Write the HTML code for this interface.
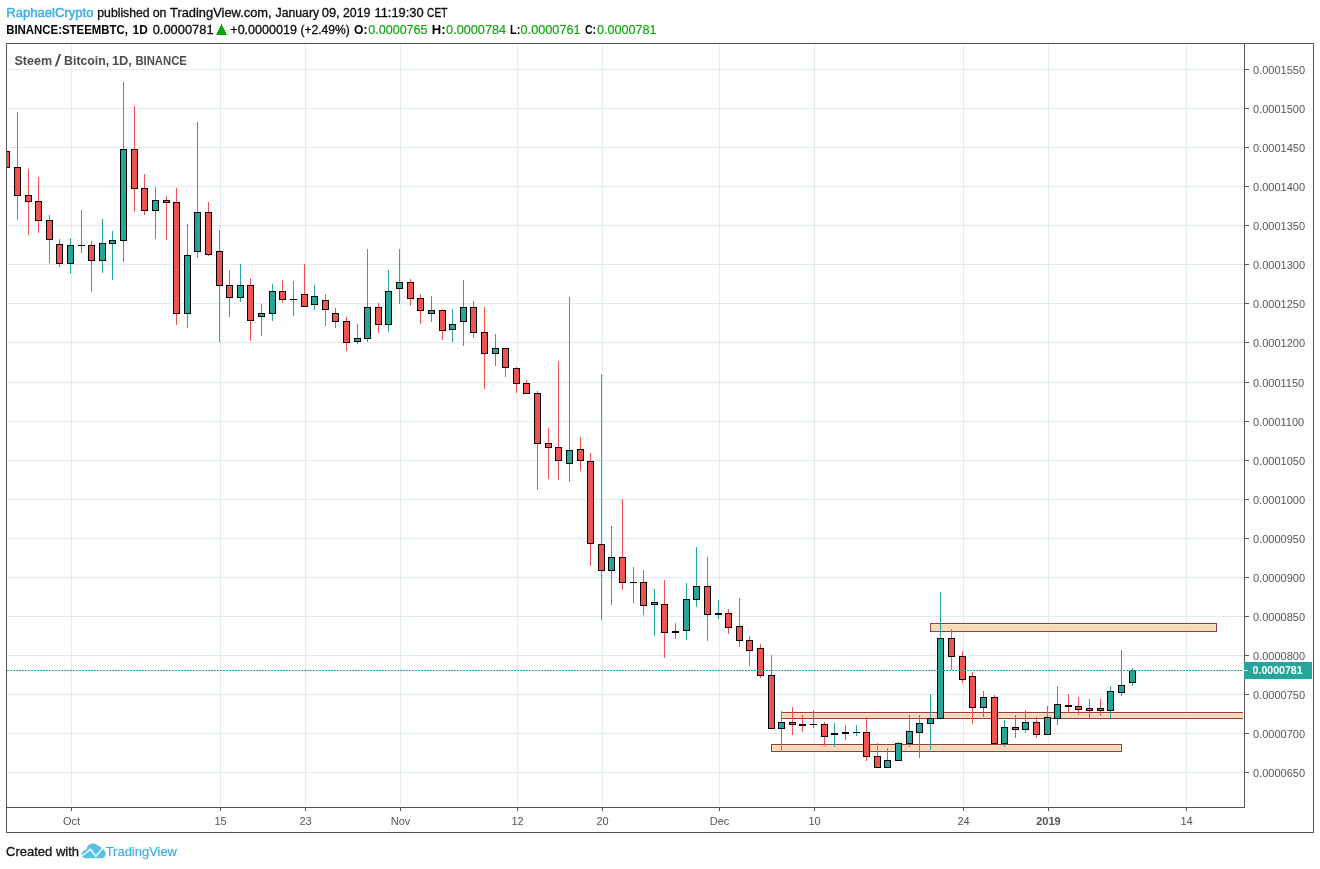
<!DOCTYPE html>
<html lang="en">
<head>
<meta charset="utf-8">
<title>Steem / Bitcoin, 1D, BINANCE - TradingView</title>
<style>
html,body{margin:0;padding:0;background:#ffffff;}
body{width:1320px;height:869px;overflow:hidden;font-family:"Liberation Sans",Arial,sans-serif;}
svg{display:block;position:absolute;left:0;top:0;}
svg rect, svg path{shape-rendering:crispEdges;}
svg #footer path{shape-rendering:auto;}
svg #hdr path{shape-rendering:auto;}
</style>
</head>
<body>
<svg width="1320" height="869" viewBox="0 0 1320 869">
<defs><clipPath id="pane"><rect x="7" y="44" width="1236" height="763"/></clipPath></defs>
<rect x="0" y="0" width="1320" height="869" fill="#ffffff"/>
<g id="grid">
<rect x="8" y="69" width="1235" height="1" fill="#e1ecf2"/>
<rect x="8" y="108" width="1235" height="1" fill="#e1ecf2"/>
<rect x="8" y="147" width="1235" height="1" fill="#e1ecf2"/>
<rect x="8" y="186" width="1235" height="1" fill="#e1ecf2"/>
<rect x="8" y="225" width="1235" height="1" fill="#e1ecf2"/>
<rect x="8" y="264" width="1235" height="1" fill="#e1ecf2"/>
<rect x="8" y="303" width="1235" height="1" fill="#e1ecf2"/>
<rect x="8" y="342" width="1235" height="1" fill="#e1ecf2"/>
<rect x="8" y="382" width="1235" height="1" fill="#e1ecf2"/>
<rect x="8" y="421" width="1235" height="1" fill="#e1ecf2"/>
<rect x="8" y="460" width="1235" height="1" fill="#e1ecf2"/>
<rect x="8" y="499" width="1235" height="1" fill="#e1ecf2"/>
<rect x="8" y="538" width="1235" height="1" fill="#e1ecf2"/>
<rect x="8" y="577" width="1235" height="1" fill="#e1ecf2"/>
<rect x="8" y="616" width="1235" height="1" fill="#e1ecf2"/>
<rect x="8" y="655" width="1235" height="1" fill="#e1ecf2"/>
<rect x="8" y="694" width="1235" height="1" fill="#e1ecf2"/>
<rect x="8" y="733" width="1235" height="1" fill="#e1ecf2"/>
<rect x="8" y="772" width="1235" height="1" fill="#e1ecf2"/>
<rect x="71" y="45" width="1" height="761" fill="#e1ecf2"/>
<rect x="220" y="45" width="1" height="761" fill="#e1ecf2"/>
<rect x="305" y="45" width="1" height="761" fill="#e1ecf2"/>
<rect x="400" y="45" width="1" height="761" fill="#e1ecf2"/>
<rect x="517" y="45" width="1" height="761" fill="#e1ecf2"/>
<rect x="602" y="45" width="1" height="761" fill="#e1ecf2"/>
<rect x="719" y="45" width="1" height="761" fill="#e1ecf2"/>
<rect x="814" y="45" width="1" height="761" fill="#e1ecf2"/>
<rect x="963" y="45" width="1" height="761" fill="#e1ecf2"/>
<rect x="1048" y="45" width="1" height="761" fill="#e1ecf2"/>
<rect x="1186" y="45" width="1" height="761" fill="#e1ecf2"/>
</g>
<g id="zones">
<g clip-path="url(#pane)">
<rect x="931" y="624" width="285" height="1" fill="#ffdfb0" fill-opacity="0.85"/>
<rect x="931" y="630" width="285" height="1" fill="#ffdfb0" fill-opacity="0.85"/>
<rect x="931" y="625" width="1" height="5" fill="#ffdfb0" fill-opacity="0.85"/>
<rect x="1215" y="625" width="1" height="5" fill="#ffdfb0" fill-opacity="0.85"/>
<rect x="932" y="625" width="283" height="5" fill="#f8d1a8" fill-opacity="0.85"/>
<rect x="930" y="623" width="287" height="1" fill="#92394b"/>
<rect x="930" y="631" width="287" height="1" fill="#92394b"/>
<rect x="930" y="623" width="1" height="9" fill="#92394b"/>
<rect x="1216" y="623" width="1" height="9" fill="#92394b"/>
<rect x="782" y="713" width="478" height="1" fill="#ffdfb0" fill-opacity="0.85"/>
<rect x="782" y="717" width="478" height="1" fill="#ffdfb0" fill-opacity="0.85"/>
<rect x="782" y="714" width="1" height="3" fill="#ffdfb0" fill-opacity="0.85"/>
<rect x="1259" y="714" width="1" height="3" fill="#ffdfb0" fill-opacity="0.85"/>
<rect x="783" y="714" width="476" height="3" fill="#f8d1a8" fill-opacity="0.85"/>
<rect x="781" y="712" width="480" height="1" fill="#92394b"/>
<rect x="781" y="718" width="480" height="1" fill="#92394b"/>
<rect x="781" y="712" width="1" height="7" fill="#92394b"/>
<rect x="1260" y="712" width="1" height="7" fill="#92394b"/>
<rect x="772" y="745" width="349" height="1" fill="#ffdfb0" fill-opacity="0.85"/>
<rect x="772" y="750" width="349" height="1" fill="#ffdfb0" fill-opacity="0.85"/>
<rect x="772" y="746" width="1" height="4" fill="#ffdfb0" fill-opacity="0.85"/>
<rect x="1120" y="746" width="1" height="4" fill="#ffdfb0" fill-opacity="0.85"/>
<rect x="773" y="746" width="347" height="4" fill="#f8d1a8" fill-opacity="0.85"/>
<rect x="771" y="744" width="351" height="1" fill="#92394b"/>
<rect x="771" y="751" width="351" height="1" fill="#92394b"/>
<rect x="771" y="744" width="1" height="8" fill="#92394b"/>
<rect x="1121" y="744" width="1" height="8" fill="#92394b"/>
</g>
</g>
<g id="candles" clip-path="url(#pane)">
<rect x="3" y="151" width="7" height="17" fill="#000000"/>
<rect x="4" y="152" width="5" height="15" fill="#ef5350"/>
<rect x="17" y="112" width="1" height="108" fill="#ef5350"/>
<rect x="14" y="167" width="7" height="29" fill="#000000"/>
<rect x="15" y="168" width="5" height="27" fill="#ef5350"/>
<rect x="28" y="169" width="1" height="66" fill="#ef5350"/>
<rect x="25" y="195" width="7" height="7" fill="#000000"/>
<rect x="26" y="196" width="5" height="5" fill="#ef5350"/>
<rect x="38" y="177" width="1" height="56" fill="#ef5350"/>
<rect x="35" y="201" width="7" height="20" fill="#000000"/>
<rect x="36" y="202" width="5" height="18" fill="#ef5350"/>
<rect x="49" y="215" width="1" height="48" fill="#ef5350"/>
<rect x="46" y="220" width="7" height="20" fill="#000000"/>
<rect x="47" y="221" width="5" height="18" fill="#ef5350"/>
<rect x="59" y="239" width="1" height="28" fill="#ef5350"/>
<rect x="56" y="244" width="7" height="20" fill="#000000"/>
<rect x="57" y="245" width="5" height="18" fill="#ef5350"/>
<rect x="70" y="238" width="1" height="36" fill="#26a69a"/>
<rect x="67" y="245" width="7" height="19" fill="#000000"/>
<rect x="68" y="246" width="5" height="17" fill="#26a69a"/>
<rect x="81" y="210" width="1" height="43" fill="#ef5350"/>
<rect x="78" y="245" width="7" height="1" fill="#000000"/>
<rect x="91" y="241" width="1" height="51" fill="#ef5350"/>
<rect x="88" y="245" width="7" height="16" fill="#000000"/>
<rect x="89" y="246" width="5" height="14" fill="#ef5350"/>
<rect x="102" y="219" width="1" height="54" fill="#26a69a"/>
<rect x="99" y="243" width="7" height="18" fill="#000000"/>
<rect x="100" y="244" width="5" height="16" fill="#26a69a"/>
<rect x="112" y="231" width="1" height="49" fill="#26a69a"/>
<rect x="109" y="240" width="7" height="4" fill="#000000"/>
<rect x="110" y="241" width="5" height="2" fill="#26a69a"/>
<rect x="123" y="82" width="1" height="180" fill="#26a69a"/>
<rect x="120" y="149" width="7" height="92" fill="#000000"/>
<rect x="121" y="150" width="5" height="90" fill="#26a69a"/>
<rect x="134" y="106" width="1" height="106" fill="#ef5350"/>
<rect x="131" y="149" width="7" height="40" fill="#000000"/>
<rect x="132" y="150" width="5" height="38" fill="#ef5350"/>
<rect x="144" y="174" width="1" height="41" fill="#ef5350"/>
<rect x="141" y="188" width="7" height="23" fill="#000000"/>
<rect x="142" y="189" width="5" height="21" fill="#ef5350"/>
<rect x="155" y="187" width="1" height="52" fill="#26a69a"/>
<rect x="152" y="200" width="7" height="11" fill="#000000"/>
<rect x="153" y="201" width="5" height="9" fill="#26a69a"/>
<rect x="166" y="196" width="1" height="44" fill="#ef5350"/>
<rect x="163" y="200" width="7" height="3" fill="#000000"/>
<rect x="164" y="201" width="5" height="1" fill="#ef5350"/>
<rect x="176" y="188" width="1" height="137" fill="#ef5350"/>
<rect x="173" y="202" width="7" height="112" fill="#000000"/>
<rect x="174" y="203" width="5" height="110" fill="#ef5350"/>
<rect x="187" y="224" width="1" height="104" fill="#26a69a"/>
<rect x="184" y="255" width="7" height="59" fill="#000000"/>
<rect x="185" y="256" width="5" height="57" fill="#26a69a"/>
<rect x="197" y="122" width="1" height="136" fill="#26a69a"/>
<rect x="194" y="212" width="7" height="40" fill="#000000"/>
<rect x="195" y="213" width="5" height="38" fill="#26a69a"/>
<rect x="208" y="202" width="1" height="54" fill="#ef5350"/>
<rect x="205" y="212" width="7" height="43" fill="#000000"/>
<rect x="206" y="213" width="5" height="41" fill="#ef5350"/>
<rect x="219" y="230" width="1" height="112" fill="#ef5350"/>
<rect x="216" y="251" width="7" height="35" fill="#000000"/>
<rect x="217" y="252" width="5" height="33" fill="#ef5350"/>
<rect x="229" y="270" width="1" height="47" fill="#ef5350"/>
<rect x="226" y="285" width="7" height="13" fill="#000000"/>
<rect x="227" y="286" width="5" height="11" fill="#ef5350"/>
<rect x="240" y="264" width="1" height="38" fill="#26a69a"/>
<rect x="237" y="285" width="7" height="13" fill="#000000"/>
<rect x="238" y="286" width="5" height="11" fill="#26a69a"/>
<rect x="250" y="278" width="1" height="63" fill="#ef5350"/>
<rect x="247" y="285" width="7" height="36" fill="#000000"/>
<rect x="248" y="286" width="5" height="34" fill="#ef5350"/>
<rect x="261" y="304" width="1" height="32" fill="#26a69a"/>
<rect x="258" y="313" width="7" height="4" fill="#000000"/>
<rect x="259" y="314" width="5" height="2" fill="#26a69a"/>
<rect x="272" y="284" width="1" height="37" fill="#26a69a"/>
<rect x="269" y="291" width="7" height="23" fill="#000000"/>
<rect x="270" y="292" width="5" height="21" fill="#26a69a"/>
<rect x="282" y="280" width="1" height="23" fill="#ef5350"/>
<rect x="279" y="291" width="7" height="9" fill="#000000"/>
<rect x="280" y="292" width="5" height="7" fill="#ef5350"/>
<rect x="293" y="281" width="1" height="35" fill="#26a69a"/>
<rect x="290" y="299" width="7" height="1" fill="#000000"/>
<rect x="304" y="264" width="1" height="43" fill="#ef5350"/>
<rect x="301" y="294" width="7" height="13" fill="#000000"/>
<rect x="302" y="295" width="5" height="11" fill="#ef5350"/>
<rect x="314" y="285" width="1" height="25" fill="#26a69a"/>
<rect x="311" y="296" width="7" height="9" fill="#000000"/>
<rect x="312" y="297" width="5" height="7" fill="#26a69a"/>
<rect x="325" y="294" width="1" height="32" fill="#ef5350"/>
<rect x="322" y="300" width="7" height="10" fill="#000000"/>
<rect x="323" y="301" width="5" height="8" fill="#ef5350"/>
<rect x="335" y="308" width="1" height="20" fill="#ef5350"/>
<rect x="332" y="313" width="7" height="9" fill="#000000"/>
<rect x="333" y="314" width="5" height="7" fill="#ef5350"/>
<rect x="346" y="317" width="1" height="34" fill="#ef5350"/>
<rect x="343" y="321" width="7" height="22" fill="#000000"/>
<rect x="344" y="322" width="5" height="20" fill="#ef5350"/>
<rect x="357" y="324" width="1" height="20" fill="#26a69a"/>
<rect x="354" y="338" width="7" height="4" fill="#000000"/>
<rect x="355" y="339" width="5" height="2" fill="#26a69a"/>
<rect x="367" y="249" width="1" height="93" fill="#26a69a"/>
<rect x="364" y="307" width="7" height="32" fill="#000000"/>
<rect x="365" y="308" width="5" height="30" fill="#26a69a"/>
<rect x="378" y="303" width="1" height="30" fill="#ef5350"/>
<rect x="375" y="307" width="7" height="18" fill="#000000"/>
<rect x="376" y="308" width="5" height="16" fill="#ef5350"/>
<rect x="388" y="270" width="1" height="62" fill="#26a69a"/>
<rect x="385" y="291" width="7" height="34" fill="#000000"/>
<rect x="386" y="292" width="5" height="32" fill="#26a69a"/>
<rect x="399" y="249" width="1" height="55" fill="#26a69a"/>
<rect x="396" y="282" width="7" height="7" fill="#000000"/>
<rect x="397" y="283" width="5" height="5" fill="#26a69a"/>
<rect x="410" y="279" width="1" height="27" fill="#ef5350"/>
<rect x="407" y="282" width="7" height="17" fill="#000000"/>
<rect x="408" y="283" width="5" height="15" fill="#ef5350"/>
<rect x="420" y="294" width="1" height="30" fill="#ef5350"/>
<rect x="417" y="298" width="7" height="13" fill="#000000"/>
<rect x="418" y="299" width="5" height="11" fill="#ef5350"/>
<rect x="431" y="296" width="1" height="26" fill="#26a69a"/>
<rect x="428" y="310" width="7" height="4" fill="#000000"/>
<rect x="429" y="311" width="5" height="2" fill="#26a69a"/>
<rect x="442" y="309" width="1" height="31" fill="#ef5350"/>
<rect x="439" y="310" width="7" height="21" fill="#000000"/>
<rect x="440" y="311" width="5" height="19" fill="#ef5350"/>
<rect x="452" y="309" width="1" height="33" fill="#26a69a"/>
<rect x="449" y="324" width="7" height="6" fill="#000000"/>
<rect x="450" y="325" width="5" height="4" fill="#26a69a"/>
<rect x="463" y="280" width="1" height="66" fill="#26a69a"/>
<rect x="460" y="307" width="7" height="15" fill="#000000"/>
<rect x="461" y="308" width="5" height="13" fill="#26a69a"/>
<rect x="473" y="301" width="1" height="37" fill="#ef5350"/>
<rect x="470" y="307" width="7" height="26" fill="#000000"/>
<rect x="471" y="308" width="5" height="24" fill="#ef5350"/>
<rect x="484" y="307" width="1" height="82" fill="#ef5350"/>
<rect x="481" y="332" width="7" height="22" fill="#000000"/>
<rect x="482" y="333" width="5" height="20" fill="#ef5350"/>
<rect x="495" y="334" width="1" height="32" fill="#26a69a"/>
<rect x="492" y="348" width="7" height="6" fill="#000000"/>
<rect x="493" y="349" width="5" height="4" fill="#26a69a"/>
<rect x="505" y="348" width="1" height="29" fill="#ef5350"/>
<rect x="502" y="348" width="7" height="20" fill="#000000"/>
<rect x="503" y="349" width="5" height="18" fill="#ef5350"/>
<rect x="516" y="367" width="1" height="26" fill="#ef5350"/>
<rect x="513" y="368" width="7" height="16" fill="#000000"/>
<rect x="514" y="369" width="5" height="14" fill="#ef5350"/>
<rect x="526" y="380" width="1" height="14" fill="#ef5350"/>
<rect x="523" y="383" width="7" height="11" fill="#000000"/>
<rect x="524" y="384" width="5" height="9" fill="#ef5350"/>
<rect x="537" y="391" width="1" height="99" fill="#ef5350"/>
<rect x="534" y="393" width="7" height="51" fill="#000000"/>
<rect x="535" y="394" width="5" height="49" fill="#ef5350"/>
<rect x="548" y="428" width="1" height="51" fill="#ef5350"/>
<rect x="545" y="443" width="7" height="5" fill="#000000"/>
<rect x="546" y="444" width="5" height="3" fill="#ef5350"/>
<rect x="558" y="361" width="1" height="119" fill="#ef5350"/>
<rect x="555" y="447" width="7" height="14" fill="#000000"/>
<rect x="556" y="448" width="5" height="12" fill="#ef5350"/>
<rect x="569" y="297" width="1" height="185" fill="#26a69a"/>
<rect x="566" y="450" width="7" height="14" fill="#000000"/>
<rect x="567" y="451" width="5" height="12" fill="#26a69a"/>
<rect x="580" y="437" width="1" height="34" fill="#ef5350"/>
<rect x="577" y="449" width="7" height="12" fill="#000000"/>
<rect x="578" y="450" width="5" height="10" fill="#ef5350"/>
<rect x="590" y="453" width="1" height="113" fill="#ef5350"/>
<rect x="587" y="461" width="7" height="83" fill="#000000"/>
<rect x="588" y="462" width="5" height="81" fill="#ef5350"/>
<rect x="601" y="374" width="1" height="246" fill="#ef5350"/>
<rect x="598" y="544" width="7" height="27" fill="#000000"/>
<rect x="599" y="545" width="5" height="25" fill="#ef5350"/>
<rect x="611" y="526" width="1" height="79" fill="#26a69a"/>
<rect x="608" y="557" width="7" height="14" fill="#000000"/>
<rect x="609" y="558" width="5" height="12" fill="#26a69a"/>
<rect x="622" y="499" width="1" height="91" fill="#ef5350"/>
<rect x="619" y="557" width="7" height="26" fill="#000000"/>
<rect x="620" y="558" width="5" height="24" fill="#ef5350"/>
<rect x="633" y="567" width="1" height="36" fill="#26a69a"/>
<rect x="630" y="582" width="7" height="1" fill="#000000"/>
<rect x="643" y="570" width="1" height="45" fill="#ef5350"/>
<rect x="640" y="582" width="7" height="24" fill="#000000"/>
<rect x="641" y="583" width="5" height="22" fill="#ef5350"/>
<rect x="654" y="589" width="1" height="47" fill="#26a69a"/>
<rect x="651" y="602" width="7" height="3" fill="#000000"/>
<rect x="652" y="603" width="5" height="1" fill="#26a69a"/>
<rect x="664" y="580" width="1" height="78" fill="#ef5350"/>
<rect x="661" y="604" width="7" height="29" fill="#000000"/>
<rect x="662" y="605" width="5" height="27" fill="#ef5350"/>
<rect x="675" y="623" width="1" height="16" fill="#26a69a"/>
<rect x="672" y="631" width="7" height="2" fill="#000000"/>
<rect x="686" y="583" width="1" height="57" fill="#26a69a"/>
<rect x="683" y="599" width="7" height="32" fill="#000000"/>
<rect x="684" y="600" width="5" height="30" fill="#26a69a"/>
<rect x="696" y="547" width="1" height="60" fill="#26a69a"/>
<rect x="693" y="586" width="7" height="14" fill="#000000"/>
<rect x="694" y="587" width="5" height="12" fill="#26a69a"/>
<rect x="707" y="557" width="1" height="84" fill="#ef5350"/>
<rect x="704" y="586" width="7" height="29" fill="#000000"/>
<rect x="705" y="587" width="5" height="27" fill="#ef5350"/>
<rect x="718" y="600" width="1" height="19" fill="#26a69a"/>
<rect x="715" y="613" width="7" height="2" fill="#000000"/>
<rect x="728" y="609" width="1" height="25" fill="#ef5350"/>
<rect x="725" y="613" width="7" height="15" fill="#000000"/>
<rect x="726" y="614" width="5" height="13" fill="#ef5350"/>
<rect x="739" y="598" width="1" height="49" fill="#ef5350"/>
<rect x="736" y="626" width="7" height="15" fill="#000000"/>
<rect x="737" y="627" width="5" height="13" fill="#ef5350"/>
<rect x="749" y="636" width="1" height="30" fill="#ef5350"/>
<rect x="746" y="640" width="7" height="11" fill="#000000"/>
<rect x="747" y="641" width="5" height="9" fill="#ef5350"/>
<rect x="760" y="644" width="1" height="34" fill="#ef5350"/>
<rect x="757" y="648" width="7" height="28" fill="#000000"/>
<rect x="758" y="649" width="5" height="26" fill="#ef5350"/>
<rect x="771" y="655" width="1" height="74" fill="#ef5350"/>
<rect x="768" y="675" width="7" height="54" fill="#000000"/>
<rect x="769" y="676" width="5" height="52" fill="#ef5350"/>
<rect x="781" y="711" width="1" height="40" fill="#26a69a"/>
<rect x="778" y="722" width="7" height="7" fill="#000000"/>
<rect x="779" y="723" width="5" height="5" fill="#26a69a"/>
<rect x="792" y="707" width="1" height="28" fill="#ef5350"/>
<rect x="789" y="722" width="7" height="3" fill="#000000"/>
<rect x="790" y="723" width="5" height="1" fill="#ef5350"/>
<rect x="802" y="715" width="1" height="17" fill="#ef5350"/>
<rect x="799" y="724" width="7" height="2" fill="#000000"/>
<rect x="813" y="710" width="1" height="18" fill="#26a69a"/>
<rect x="810" y="724" width="7" height="1" fill="#000000"/>
<rect x="824" y="722" width="1" height="24" fill="#ef5350"/>
<rect x="821" y="724" width="7" height="13" fill="#000000"/>
<rect x="822" y="725" width="5" height="11" fill="#ef5350"/>
<rect x="834" y="723" width="1" height="24" fill="#26a69a"/>
<rect x="831" y="733" width="7" height="2" fill="#000000"/>
<rect x="845" y="725" width="1" height="15" fill="#26a69a"/>
<rect x="842" y="732" width="7" height="2" fill="#000000"/>
<rect x="856" y="725" width="1" height="11" fill="#26a69a"/>
<rect x="853" y="732" width="7" height="1" fill="#000000"/>
<rect x="866" y="717" width="1" height="44" fill="#ef5350"/>
<rect x="863" y="732" width="7" height="25" fill="#000000"/>
<rect x="864" y="733" width="5" height="23" fill="#ef5350"/>
<rect x="877" y="743" width="1" height="25" fill="#ef5350"/>
<rect x="874" y="756" width="7" height="12" fill="#000000"/>
<rect x="875" y="757" width="5" height="10" fill="#ef5350"/>
<rect x="887" y="748" width="1" height="20" fill="#26a69a"/>
<rect x="884" y="760" width="7" height="8" fill="#000000"/>
<rect x="885" y="761" width="5" height="6" fill="#26a69a"/>
<rect x="898" y="742" width="1" height="19" fill="#26a69a"/>
<rect x="895" y="743" width="7" height="18" fill="#000000"/>
<rect x="896" y="744" width="5" height="16" fill="#26a69a"/>
<rect x="909" y="715" width="1" height="32" fill="#26a69a"/>
<rect x="906" y="731" width="7" height="13" fill="#000000"/>
<rect x="907" y="732" width="5" height="11" fill="#26a69a"/>
<rect x="919" y="715" width="1" height="43" fill="#26a69a"/>
<rect x="916" y="723" width="7" height="10" fill="#000000"/>
<rect x="917" y="724" width="5" height="8" fill="#26a69a"/>
<rect x="930" y="694" width="1" height="56" fill="#26a69a"/>
<rect x="927" y="718" width="7" height="6" fill="#000000"/>
<rect x="928" y="719" width="5" height="4" fill="#26a69a"/>
<rect x="940" y="592" width="1" height="127" fill="#26a69a"/>
<rect x="937" y="638" width="7" height="81" fill="#000000"/>
<rect x="938" y="639" width="5" height="79" fill="#26a69a"/>
<rect x="951" y="629" width="1" height="41" fill="#ef5350"/>
<rect x="948" y="638" width="7" height="19" fill="#000000"/>
<rect x="949" y="639" width="5" height="17" fill="#ef5350"/>
<rect x="962" y="651" width="1" height="32" fill="#ef5350"/>
<rect x="959" y="656" width="7" height="24" fill="#000000"/>
<rect x="960" y="657" width="5" height="22" fill="#ef5350"/>
<rect x="972" y="672" width="1" height="52" fill="#ef5350"/>
<rect x="969" y="676" width="7" height="32" fill="#000000"/>
<rect x="970" y="677" width="5" height="30" fill="#ef5350"/>
<rect x="983" y="691" width="1" height="26" fill="#26a69a"/>
<rect x="980" y="697" width="7" height="11" fill="#000000"/>
<rect x="981" y="698" width="5" height="9" fill="#26a69a"/>
<rect x="994" y="695" width="1" height="50" fill="#ef5350"/>
<rect x="991" y="697" width="7" height="47" fill="#000000"/>
<rect x="992" y="698" width="5" height="45" fill="#ef5350"/>
<rect x="1004" y="720" width="1" height="27" fill="#26a69a"/>
<rect x="1001" y="727" width="7" height="17" fill="#000000"/>
<rect x="1002" y="728" width="5" height="15" fill="#26a69a"/>
<rect x="1015" y="715" width="1" height="23" fill="#ef5350"/>
<rect x="1012" y="727" width="7" height="3" fill="#000000"/>
<rect x="1013" y="728" width="5" height="1" fill="#ef5350"/>
<rect x="1025" y="710" width="1" height="23" fill="#26a69a"/>
<rect x="1022" y="722" width="7" height="8" fill="#000000"/>
<rect x="1023" y="723" width="5" height="6" fill="#26a69a"/>
<rect x="1036" y="717" width="1" height="21" fill="#ef5350"/>
<rect x="1033" y="722" width="7" height="13" fill="#000000"/>
<rect x="1034" y="723" width="5" height="11" fill="#ef5350"/>
<rect x="1047" y="706" width="1" height="29" fill="#26a69a"/>
<rect x="1044" y="717" width="7" height="18" fill="#000000"/>
<rect x="1045" y="718" width="5" height="16" fill="#26a69a"/>
<rect x="1057" y="686" width="1" height="39" fill="#26a69a"/>
<rect x="1054" y="704" width="7" height="15" fill="#000000"/>
<rect x="1055" y="705" width="5" height="13" fill="#26a69a"/>
<rect x="1068" y="694" width="1" height="19" fill="#ef5350"/>
<rect x="1065" y="705" width="7" height="2" fill="#000000"/>
<rect x="1078" y="697" width="1" height="18" fill="#ef5350"/>
<rect x="1075" y="706" width="7" height="4" fill="#000000"/>
<rect x="1076" y="707" width="5" height="2" fill="#ef5350"/>
<rect x="1089" y="699" width="1" height="20" fill="#26a69a"/>
<rect x="1086" y="708" width="7" height="3" fill="#000000"/>
<rect x="1087" y="709" width="5" height="1" fill="#26a69a"/>
<rect x="1100" y="699" width="1" height="17" fill="#ef5350"/>
<rect x="1097" y="708" width="7" height="3" fill="#000000"/>
<rect x="1098" y="709" width="5" height="1" fill="#ef5350"/>
<rect x="1110" y="686" width="1" height="32" fill="#26a69a"/>
<rect x="1107" y="691" width="7" height="20" fill="#000000"/>
<rect x="1108" y="692" width="5" height="18" fill="#26a69a"/>
<rect x="1121" y="650" width="1" height="46" fill="#26a69a"/>
<rect x="1118" y="685" width="7" height="8" fill="#000000"/>
<rect x="1119" y="686" width="5" height="6" fill="#26a69a"/>
<rect x="1132" y="668" width="1" height="18" fill="#26a69a"/>
<rect x="1129" y="670" width="7" height="13" fill="#000000"/>
<rect x="1130" y="671" width="5" height="11" fill="#26a69a"/>
</g>
<g id="priceline">
<path d="M7 670h2v1h-2zM10 670h2v1h-2zM13 670h2v1h-2zM16 670h2v1h-2zM19 670h2v1h-2zM22 670h2v1h-2zM25 670h2v1h-2zM28 670h2v1h-2zM31 670h2v1h-2zM34 670h2v1h-2zM37 670h2v1h-2zM40 670h2v1h-2zM43 670h2v1h-2zM46 670h2v1h-2zM49 670h2v1h-2zM52 670h2v1h-2zM55 670h2v1h-2zM58 670h2v1h-2zM61 670h2v1h-2zM64 670h2v1h-2zM67 670h2v1h-2zM70 670h2v1h-2zM73 670h2v1h-2zM76 670h2v1h-2zM79 670h2v1h-2zM82 670h2v1h-2zM85 670h2v1h-2zM88 670h2v1h-2zM91 670h2v1h-2zM94 670h2v1h-2zM97 670h2v1h-2zM100 670h2v1h-2zM103 670h2v1h-2zM106 670h2v1h-2zM109 670h2v1h-2zM112 670h2v1h-2zM115 670h2v1h-2zM118 670h2v1h-2zM121 670h2v1h-2zM124 670h2v1h-2zM127 670h2v1h-2zM130 670h2v1h-2zM133 670h2v1h-2zM136 670h2v1h-2zM139 670h2v1h-2zM142 670h2v1h-2zM145 670h2v1h-2zM148 670h2v1h-2zM151 670h2v1h-2zM154 670h2v1h-2zM157 670h2v1h-2zM160 670h2v1h-2zM163 670h2v1h-2zM166 670h2v1h-2zM169 670h2v1h-2zM172 670h2v1h-2zM175 670h2v1h-2zM178 670h2v1h-2zM181 670h2v1h-2zM184 670h2v1h-2zM187 670h2v1h-2zM190 670h2v1h-2zM193 670h2v1h-2zM196 670h2v1h-2zM199 670h2v1h-2zM202 670h2v1h-2zM205 670h2v1h-2zM208 670h2v1h-2zM211 670h2v1h-2zM214 670h2v1h-2zM217 670h2v1h-2zM220 670h2v1h-2zM223 670h2v1h-2zM226 670h2v1h-2zM229 670h2v1h-2zM232 670h2v1h-2zM235 670h2v1h-2zM238 670h2v1h-2zM241 670h2v1h-2zM244 670h2v1h-2zM247 670h2v1h-2zM250 670h2v1h-2zM253 670h2v1h-2zM256 670h2v1h-2zM259 670h2v1h-2zM262 670h2v1h-2zM265 670h2v1h-2zM268 670h2v1h-2zM271 670h2v1h-2zM274 670h2v1h-2zM277 670h2v1h-2zM280 670h2v1h-2zM283 670h2v1h-2zM286 670h2v1h-2zM289 670h2v1h-2zM292 670h2v1h-2zM295 670h2v1h-2zM298 670h2v1h-2zM301 670h2v1h-2zM304 670h2v1h-2zM307 670h2v1h-2zM310 670h2v1h-2zM313 670h2v1h-2zM316 670h2v1h-2zM319 670h2v1h-2zM322 670h2v1h-2zM325 670h2v1h-2zM328 670h2v1h-2zM331 670h2v1h-2zM334 670h2v1h-2zM337 670h2v1h-2zM340 670h2v1h-2zM343 670h2v1h-2zM346 670h2v1h-2zM349 670h2v1h-2zM352 670h2v1h-2zM355 670h2v1h-2zM358 670h2v1h-2zM361 670h2v1h-2zM364 670h2v1h-2zM367 670h2v1h-2zM370 670h2v1h-2zM373 670h2v1h-2zM376 670h2v1h-2zM379 670h2v1h-2zM382 670h2v1h-2zM385 670h2v1h-2zM388 670h2v1h-2zM391 670h2v1h-2zM394 670h2v1h-2zM397 670h2v1h-2zM400 670h2v1h-2zM403 670h2v1h-2zM406 670h2v1h-2zM409 670h2v1h-2zM412 670h2v1h-2zM415 670h2v1h-2zM418 670h2v1h-2zM421 670h2v1h-2zM424 670h2v1h-2zM427 670h2v1h-2zM430 670h2v1h-2zM433 670h2v1h-2zM436 670h2v1h-2zM439 670h2v1h-2zM442 670h2v1h-2zM445 670h2v1h-2zM448 670h2v1h-2zM451 670h2v1h-2zM454 670h2v1h-2zM457 670h2v1h-2zM460 670h2v1h-2zM463 670h2v1h-2zM466 670h2v1h-2zM469 670h2v1h-2zM472 670h2v1h-2zM475 670h2v1h-2zM478 670h2v1h-2zM481 670h2v1h-2zM484 670h2v1h-2zM487 670h2v1h-2zM490 670h2v1h-2zM493 670h2v1h-2zM496 670h2v1h-2zM499 670h2v1h-2zM502 670h2v1h-2zM505 670h2v1h-2zM508 670h2v1h-2zM511 670h2v1h-2zM514 670h2v1h-2zM517 670h2v1h-2zM520 670h2v1h-2zM523 670h2v1h-2zM526 670h2v1h-2zM529 670h2v1h-2zM532 670h2v1h-2zM535 670h2v1h-2zM538 670h2v1h-2zM541 670h2v1h-2zM544 670h2v1h-2zM547 670h2v1h-2zM550 670h2v1h-2zM553 670h2v1h-2zM556 670h2v1h-2zM559 670h2v1h-2zM562 670h2v1h-2zM565 670h2v1h-2zM568 670h2v1h-2zM571 670h2v1h-2zM574 670h2v1h-2zM577 670h2v1h-2zM580 670h2v1h-2zM583 670h2v1h-2zM586 670h2v1h-2zM589 670h2v1h-2zM592 670h2v1h-2zM595 670h2v1h-2zM598 670h2v1h-2zM601 670h2v1h-2zM604 670h2v1h-2zM607 670h2v1h-2zM610 670h2v1h-2zM613 670h2v1h-2zM616 670h2v1h-2zM619 670h2v1h-2zM622 670h2v1h-2zM625 670h2v1h-2zM628 670h2v1h-2zM631 670h2v1h-2zM634 670h2v1h-2zM637 670h2v1h-2zM640 670h2v1h-2zM643 670h2v1h-2zM646 670h2v1h-2zM649 670h2v1h-2zM652 670h2v1h-2zM655 670h2v1h-2zM658 670h2v1h-2zM661 670h2v1h-2zM664 670h2v1h-2zM667 670h2v1h-2zM670 670h2v1h-2zM673 670h2v1h-2zM676 670h2v1h-2zM679 670h2v1h-2zM682 670h2v1h-2zM685 670h2v1h-2zM688 670h2v1h-2zM691 670h2v1h-2zM694 670h2v1h-2zM697 670h2v1h-2zM700 670h2v1h-2zM703 670h2v1h-2zM706 670h2v1h-2zM709 670h2v1h-2zM712 670h2v1h-2zM715 670h2v1h-2zM718 670h2v1h-2zM721 670h2v1h-2zM724 670h2v1h-2zM727 670h2v1h-2zM730 670h2v1h-2zM733 670h2v1h-2zM736 670h2v1h-2zM739 670h2v1h-2zM742 670h2v1h-2zM745 670h2v1h-2zM748 670h2v1h-2zM751 670h2v1h-2zM754 670h2v1h-2zM757 670h2v1h-2zM760 670h2v1h-2zM763 670h2v1h-2zM766 670h2v1h-2zM769 670h2v1h-2zM772 670h2v1h-2zM775 670h2v1h-2zM778 670h2v1h-2zM781 670h2v1h-2zM784 670h2v1h-2zM787 670h2v1h-2zM790 670h2v1h-2zM793 670h2v1h-2zM796 670h2v1h-2zM799 670h2v1h-2zM802 670h2v1h-2zM805 670h2v1h-2zM808 670h2v1h-2zM811 670h2v1h-2zM814 670h2v1h-2zM817 670h2v1h-2zM820 670h2v1h-2zM823 670h2v1h-2zM826 670h2v1h-2zM829 670h2v1h-2zM832 670h2v1h-2zM835 670h2v1h-2zM838 670h2v1h-2zM841 670h2v1h-2zM844 670h2v1h-2zM847 670h2v1h-2zM850 670h2v1h-2zM853 670h2v1h-2zM856 670h2v1h-2zM859 670h2v1h-2zM862 670h2v1h-2zM865 670h2v1h-2zM868 670h2v1h-2zM871 670h2v1h-2zM874 670h2v1h-2zM877 670h2v1h-2zM880 670h2v1h-2zM883 670h2v1h-2zM886 670h2v1h-2zM889 670h2v1h-2zM892 670h2v1h-2zM895 670h2v1h-2zM898 670h2v1h-2zM901 670h2v1h-2zM904 670h2v1h-2zM907 670h2v1h-2zM910 670h2v1h-2zM913 670h2v1h-2zM916 670h2v1h-2zM919 670h2v1h-2zM922 670h2v1h-2zM925 670h2v1h-2zM928 670h2v1h-2zM931 670h2v1h-2zM934 670h2v1h-2zM937 670h2v1h-2zM940 670h2v1h-2zM943 670h2v1h-2zM946 670h2v1h-2zM949 670h2v1h-2zM952 670h2v1h-2zM955 670h2v1h-2zM958 670h2v1h-2zM961 670h2v1h-2zM964 670h2v1h-2zM967 670h2v1h-2zM970 670h2v1h-2zM973 670h2v1h-2zM976 670h2v1h-2zM979 670h2v1h-2zM982 670h2v1h-2zM985 670h2v1h-2zM988 670h2v1h-2zM991 670h2v1h-2zM994 670h2v1h-2zM997 670h2v1h-2zM1000 670h2v1h-2zM1003 670h2v1h-2zM1006 670h2v1h-2zM1009 670h2v1h-2zM1012 670h2v1h-2zM1015 670h2v1h-2zM1018 670h2v1h-2zM1021 670h2v1h-2zM1024 670h2v1h-2zM1027 670h2v1h-2zM1030 670h2v1h-2zM1033 670h2v1h-2zM1036 670h2v1h-2zM1039 670h2v1h-2zM1042 670h2v1h-2zM1045 670h2v1h-2zM1048 670h2v1h-2zM1051 670h2v1h-2zM1054 670h2v1h-2zM1057 670h2v1h-2zM1060 670h2v1h-2zM1063 670h2v1h-2zM1066 670h2v1h-2zM1069 670h2v1h-2zM1072 670h2v1h-2zM1075 670h2v1h-2zM1078 670h2v1h-2zM1081 670h2v1h-2zM1084 670h2v1h-2zM1087 670h2v1h-2zM1090 670h2v1h-2zM1093 670h2v1h-2zM1096 670h2v1h-2zM1099 670h2v1h-2zM1102 670h2v1h-2zM1105 670h2v1h-2zM1108 670h2v1h-2zM1111 670h2v1h-2zM1114 670h2v1h-2zM1117 670h2v1h-2zM1120 670h2v1h-2zM1123 670h2v1h-2zM1126 670h2v1h-2zM1129 670h2v1h-2zM1132 670h2v1h-2zM1135 670h2v1h-2zM1138 670h2v1h-2zM1141 670h2v1h-2zM1144 670h2v1h-2zM1147 670h2v1h-2zM1150 670h2v1h-2zM1153 670h2v1h-2zM1156 670h2v1h-2zM1159 670h2v1h-2zM1162 670h2v1h-2zM1165 670h2v1h-2zM1168 670h2v1h-2zM1171 670h2v1h-2zM1174 670h2v1h-2zM1177 670h2v1h-2zM1180 670h2v1h-2zM1183 670h2v1h-2zM1186 670h2v1h-2zM1189 670h2v1h-2zM1192 670h2v1h-2zM1195 670h2v1h-2zM1198 670h2v1h-2zM1201 670h2v1h-2zM1204 670h2v1h-2zM1207 670h2v1h-2zM1210 670h2v1h-2zM1213 670h2v1h-2zM1216 670h2v1h-2zM1219 670h2v1h-2zM1222 670h2v1h-2zM1225 670h2v1h-2zM1228 670h2v1h-2zM1231 670h2v1h-2zM1234 670h2v1h-2zM1237 670h2v1h-2zM1240 670h2v1h-2z" fill="#26a69a"/>
</g>
<g id="frame">
<rect x="6" y="43" width="1308" height="1" fill="#555555"/>
<rect x="6" y="832" width="1308" height="1" fill="#555555"/>
<rect x="6" y="43" width="1" height="790" fill="#555555"/>
<rect x="1313" y="43" width="1" height="790" fill="#555555"/>
<rect x="1244" y="43" width="1" height="765" fill="#555555"/>
<rect x="6" y="807" width="1239" height="1" fill="#555555"/>
<rect x="1245" y="69" width="4" height="1" fill="#555555"/>
<rect x="1245" y="108" width="4" height="1" fill="#555555"/>
<rect x="1245" y="147" width="4" height="1" fill="#555555"/>
<rect x="1245" y="186" width="4" height="1" fill="#555555"/>
<rect x="1245" y="225" width="4" height="1" fill="#555555"/>
<rect x="1245" y="264" width="4" height="1" fill="#555555"/>
<rect x="1245" y="303" width="4" height="1" fill="#555555"/>
<rect x="1245" y="342" width="4" height="1" fill="#555555"/>
<rect x="1245" y="382" width="4" height="1" fill="#555555"/>
<rect x="1245" y="421" width="4" height="1" fill="#555555"/>
<rect x="1245" y="460" width="4" height="1" fill="#555555"/>
<rect x="1245" y="499" width="4" height="1" fill="#555555"/>
<rect x="1245" y="538" width="4" height="1" fill="#555555"/>
<rect x="1245" y="577" width="4" height="1" fill="#555555"/>
<rect x="1245" y="616" width="4" height="1" fill="#555555"/>
<rect x="1245" y="655" width="4" height="1" fill="#555555"/>
<rect x="1245" y="694" width="4" height="1" fill="#555555"/>
<rect x="1245" y="733" width="4" height="1" fill="#555555"/>
<rect x="1245" y="772" width="4" height="1" fill="#555555"/>
<rect x="71" y="808" width="1" height="3" fill="#555555"/>
<rect x="220" y="808" width="1" height="3" fill="#555555"/>
<rect x="305" y="808" width="1" height="3" fill="#555555"/>
<rect x="400" y="808" width="1" height="3" fill="#555555"/>
<rect x="517" y="808" width="1" height="3" fill="#555555"/>
<rect x="602" y="808" width="1" height="3" fill="#555555"/>
<rect x="719" y="808" width="1" height="3" fill="#555555"/>
<rect x="814" y="808" width="1" height="3" fill="#555555"/>
<rect x="963" y="808" width="1" height="3" fill="#555555"/>
<rect x="1048" y="808" width="1" height="3" fill="#555555"/>
<rect x="1186" y="808" width="1" height="3" fill="#555555"/>
</g>
<g id="plabels" font-family="'Liberation Sans', Arial, sans-serif" font-size="11" fill="#555555">
<text x="1253" y="73.5">0.0001550</text>
<text x="1253" y="112.5">0.0001500</text>
<text x="1253" y="151.5">0.0001450</text>
<text x="1253" y="190.5">0.0001400</text>
<text x="1253" y="229.5">0.0001350</text>
<text x="1253" y="268.5">0.0001300</text>
<text x="1253" y="307.5">0.0001250</text>
<text x="1253" y="346.5">0.0001200</text>
<text x="1253" y="386.5">0.0001150</text>
<text x="1253" y="425.5">0.0001100</text>
<text x="1253" y="464.5">0.0001050</text>
<text x="1253" y="503.5">0.0001000</text>
<text x="1253" y="542.5">0.0000950</text>
<text x="1253" y="581.5">0.0000900</text>
<text x="1253" y="620.5">0.0000850</text>
<text x="1253" y="659.5">0.0000800</text>
<text x="1253" y="698.5">0.0000750</text>
<text x="1253" y="737.5">0.0000700</text>
<text x="1253" y="776.5">0.0000650</text>
</g>
<g id="tlabels" font-family="'Liberation Sans', Arial, sans-serif" font-size="11" fill="#555555" text-anchor="middle">
<text x="71.5" y="825">Oct</text>
<text x="220.5" y="825">15</text>
<text x="305.5" y="825">23</text>
<text x="400.5" y="825">Nov</text>
<text x="517.5" y="825">12</text>
<text x="602.5" y="825">20</text>
<text x="719.5" y="825">Dec</text>
<text x="814.5" y="825">10</text>
<text x="963.5" y="825">24</text>
<text x="1048.5" y="825" font-weight="bold">2019</text>
<text x="1186.5" y="825">14</text>
</g>
<g id="cur">
<rect x="1244" y="662" width="68" height="17" fill="#26a69a"/>
<rect x="1244" y="670" width="4" height="1" fill="#ffffff"/>
<text x="1252.6" y="673.6" font-family="'Liberation Sans', Arial, sans-serif" font-size="11" font-weight="bold" fill="#ffffff" textLength="50" lengthAdjust="spacingAndGlyphs">0.0000781</text>
</g>
<g id="hdr">
<text x="6.20" y="16.8" font-family="'Liberation Sans', Arial, sans-serif" font-size="12.5" fill="#3aaee6" stroke="#3aaee6" stroke-width="0.45" textLength="87.30" lengthAdjust="spacingAndGlyphs">RaphaelCrypto</text>
<text x="97.30" y="16.8" font-family="'Liberation Sans', Arial, sans-serif" font-size="12.5" fill="#0a0a0a" stroke="#0a0a0a" stroke-width="0.3" textLength="52.30" lengthAdjust="spacingAndGlyphs">published</text>
<text x="152.70" y="16.8" font-family="'Liberation Sans', Arial, sans-serif" font-size="12.5" fill="#0a0a0a" stroke="#0a0a0a" stroke-width="0.3" textLength="13.80" lengthAdjust="spacingAndGlyphs">on</text>
<text x="170.00" y="16.8" font-family="'Liberation Sans', Arial, sans-serif" font-size="12.5" fill="#0a0a0a" stroke="#0a0a0a" stroke-width="0.3" textLength="101.70" lengthAdjust="spacingAndGlyphs">TradingView.com,</text>
<text x="275.60" y="16.8" font-family="'Liberation Sans', Arial, sans-serif" font-size="12.5" fill="#0a0a0a" stroke="#0a0a0a" stroke-width="0.3" textLength="43.50" lengthAdjust="spacingAndGlyphs">January</text>
<text x="321.70" y="16.8" font-family="'Liberation Sans', Arial, sans-serif" font-size="12.5" fill="#0a0a0a" stroke="#0a0a0a" stroke-width="0.3" textLength="18.00" lengthAdjust="spacingAndGlyphs">09,</text>
<text x="342.90" y="16.8" font-family="'Liberation Sans', Arial, sans-serif" font-size="12.5" fill="#0a0a0a" stroke="#0a0a0a" stroke-width="0.3" textLength="27.50" lengthAdjust="spacingAndGlyphs">2019</text>
<text x="374.50" y="16.8" font-family="'Liberation Sans', Arial, sans-serif" font-size="12.5" fill="#0a0a0a" stroke="#0a0a0a" stroke-width="0.3" textLength="49.20" lengthAdjust="spacingAndGlyphs">11:19:30</text>
<text x="427.10" y="16.8" font-family="'Liberation Sans', Arial, sans-serif" font-size="12.5" fill="#0a0a0a" stroke="#0a0a0a" stroke-width="0.3" textLength="20.20" lengthAdjust="spacingAndGlyphs">CET</text>
<text x="6.20" y="33.7" font-family="'Liberation Sans', Arial, sans-serif" font-size="12.5" fill="#000" font-weight="bold" textLength="121.80" lengthAdjust="spacingAndGlyphs">BINANCE:STEEMBTC,</text>
<text x="132.60" y="33.7" font-family="'Liberation Sans', Arial, sans-serif" font-size="12.5" fill="#000" font-weight="bold" textLength="15.10" lengthAdjust="spacingAndGlyphs">1D</text>
<text x="152.70" y="33.7" font-family="'Liberation Sans', Arial, sans-serif" font-size="12.5" fill="#0a0a0a" stroke="#0a0a0a" stroke-width="0.3" textLength="60.90" lengthAdjust="spacingAndGlyphs">0.0000781</text>
<rect x="221" y="24" width="1" height="1" fill="#00a800"/>
<rect x="221" y="25" width="1" height="1" fill="#00a800"/>
<rect x="220" y="26" width="3" height="1" fill="#00a800"/>
<rect x="220" y="27" width="3" height="1" fill="#00a800"/>
<rect x="219" y="28" width="5" height="1" fill="#00a800"/>
<rect x="219" y="29" width="5" height="1" fill="#00a800"/>
<rect x="218" y="30" width="7" height="1" fill="#00a800"/>
<rect x="218" y="31" width="7" height="1" fill="#00a800"/>
<rect x="217" y="32" width="9" height="1" fill="#00a800"/>
<rect x="217" y="33" width="9" height="1" fill="#00a800"/>
<rect x="216" y="34" width="11" height="1" fill="#00a800"/>
<text x="230.30" y="33.7" font-family="'Liberation Sans', Arial, sans-serif" font-size="12.5" fill="#0a0a0a" stroke="#0a0a0a" stroke-width="0.3" textLength="66.70" lengthAdjust="spacingAndGlyphs">+0.0000019</text>
<text x="300.40" y="33.7" font-family="'Liberation Sans', Arial, sans-serif" font-size="12.5" fill="#0a0a0a" stroke="#0a0a0a" stroke-width="0.3" textLength="49.50" lengthAdjust="spacingAndGlyphs">(+2.49%)</text>
<text x="354.10" y="33.7" font-family="'Liberation Sans', Arial, sans-serif" font-size="12.5" fill="#000" font-weight="bold" textLength="13.40" lengthAdjust="spacingAndGlyphs">O:</text>
<text x="368.20" y="33.7" font-family="'Liberation Sans', Arial, sans-serif" font-size="12.5" fill="#0ba60b" stroke="#0ba60b" stroke-width="0.15" textLength="59.40" lengthAdjust="spacingAndGlyphs">0.0000765</text>
<text x="431.80" y="33.7" font-family="'Liberation Sans', Arial, sans-serif" font-size="12.5" fill="#000" font-weight="bold" textLength="13.80" lengthAdjust="spacingAndGlyphs">H:</text>
<text x="446.10" y="33.7" font-family="'Liberation Sans', Arial, sans-serif" font-size="12.5" fill="#0ba60b" stroke="#0ba60b" stroke-width="0.15" textLength="60.00" lengthAdjust="spacingAndGlyphs">0.0000784</text>
<text x="510.00" y="33.7" font-family="'Liberation Sans', Arial, sans-serif" font-size="12.5" fill="#000" font-weight="bold" textLength="10.30" lengthAdjust="spacingAndGlyphs">L:</text>
<text x="520.60" y="33.7" font-family="'Liberation Sans', Arial, sans-serif" font-size="12.5" fill="#0ba60b" stroke="#0ba60b" stroke-width="0.15" textLength="60.00" lengthAdjust="spacingAndGlyphs">0.0000761</text>
<text x="584.90" y="33.7" font-family="'Liberation Sans', Arial, sans-serif" font-size="12.5" fill="#000" font-weight="bold" textLength="11.20" lengthAdjust="spacingAndGlyphs">C:</text>
<text x="597.00" y="33.7" font-family="'Liberation Sans', Arial, sans-serif" font-size="12.5" fill="#0ba60b" stroke="#0ba60b" stroke-width="0.15" textLength="59.60" lengthAdjust="spacingAndGlyphs">0.0000781</text>
</g>
<g id="title">
<text x="14.40" y="65.0" font-family="'Liberation Sans', Arial, sans-serif" font-size="12.5" fill="#4d4d4d" font-weight="bold" textLength="37.70" lengthAdjust="spacingAndGlyphs">Steem</text>
<text x="64.10" y="65.0" font-family="'Liberation Sans', Arial, sans-serif" font-size="12.5" fill="#4d4d4d" font-weight="bold" textLength="45.10" lengthAdjust="spacingAndGlyphs">Bitcoin,</text>
<text x="111.90" y="65.0" font-family="'Liberation Sans', Arial, sans-serif" font-size="12.5" fill="#4d4d4d" font-weight="bold" textLength="20.00" lengthAdjust="spacingAndGlyphs">1D,</text>
<text x="135.40" y="65.0" font-family="'Liberation Sans', Arial, sans-serif" font-size="12.5" fill="#4d4d4d" font-weight="bold" textLength="51.50" lengthAdjust="spacingAndGlyphs">BINANCE</text>
<text x="58.1" y="65.8" text-anchor="middle" font-family="'Liberation Sans', Arial, sans-serif" font-size="16.5" font-weight="bold" fill="#4d4d4d" transform="translate(58.1,60) skewX(-9) translate(-58.1,-60)">/</text>
</g>
<g id="footer">
<text x="6.00" y="855.6" font-family="'Liberation Sans', Arial, sans-serif" font-size="12.5" fill="#111" stroke="#111" stroke-width="0.3" textLength="73.10" lengthAdjust="spacingAndGlyphs">Created with</text>
<g transform="translate(81.8,843.2)">
<path d="M3.7 15C1.5 15 0 13.3 0 11.2C0 8.9 1.8 7 4.6 6.6C5 3 7.7 0.2 11.2 0.2C13.5 0.2 15.4 1.2 16.6 2.9C18.2 3.2 19.6 4.2 20.3 5.6C22.6 6.5 24 8.6 24 10.9C24 13.2 22.3 15 20 15Z" fill="#57c1e6"/>
<path d="M0.6 12.6L8.6 6.1L14.1 13.1L20.9 4.9" fill="none" stroke="#ffffff" stroke-width="1.45" stroke-linejoin="miter"/>
</g>
<text x="105.70" y="855.6" font-family="'Liberation Sans', Arial, sans-serif" font-size="12.5" fill="#33ace3" stroke="#33ace3" stroke-width="0.12" textLength="71.30" lengthAdjust="spacingAndGlyphs">TradingView</text>
</g>
</svg>
</body>
</html>
